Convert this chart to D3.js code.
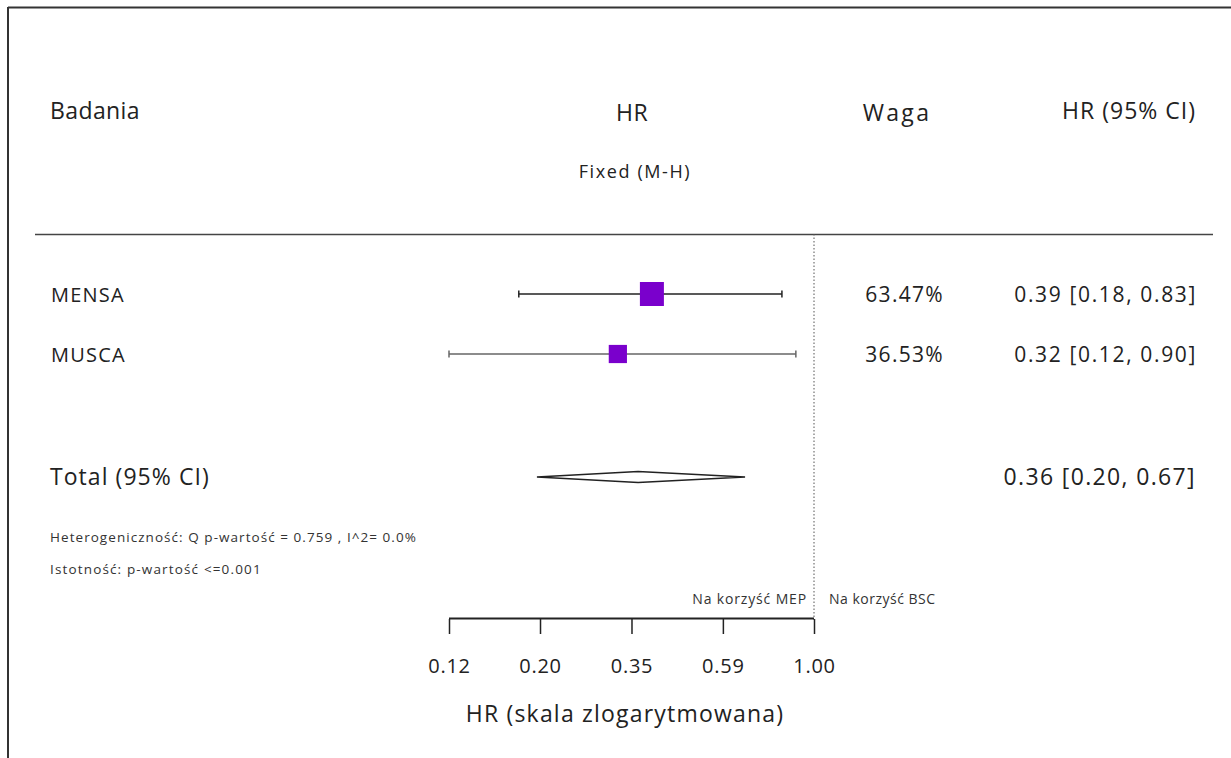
<!DOCTYPE html>
<html>
<head>
<meta charset="utf-8">
<script src="https://d3js.org/d3.v7.min.js"></script>
<style>
  body { margin: 0; background: #fff; }
  svg text { font-family: "Open Sans", Lato, sans-serif; fill: #222; }
</style>
</head>
<body>
<svg width=1231 height=758 id="chart"></svg>
<script>

// Study data
var studies = ['MENSA', 'MUSCA'];
var hr = [0.39, 0.32];
var lower = [0.18, 0.12];
var upper = [0.83, 0.90];
var weights = [63.47, 36.53];
var ciLabels = ['0.39 [0.18, 0.83]', '0.32 [0.12, 0.90]'];

// Pooled estimate
var total = {hr: 0.36, lo: 0.20, hi: 0.67, label: '0.36 [0.20, 0.67]'};

// Axis ticks (log scale)
var tickValues = [0.12, 0.2036, 0.3464, 0.5890, 1.0];
var tickLabels = ['0.12', '0.20', '0.35', '0.59', '1.00'];

var svg = d3.select('#chart');

var x = d3.scaleLog().domain([0.12, 1]).range([449, 814]);
var y = d3.scaleBand().domain(studies).range([264, 384]);
var box = d3.scaleSqrt().domain([0, 63.47]).range([0, 24]);

// small helper for text
function label(px, py, txt, size, anchor, ls) {
  return svg.append('text').attr('x', px).attr('y', py)
    .attr('text-anchor', anchor || 'start')
    .style('font-size', size + 'px')
    .style('letter-spacing', (ls || 0) + 'px')
    .text(txt);
}

// frame (top + left only)
svg.append('line').attr('x1', 8).attr('x2', 1231).attr('y1', 7.5).attr('y2', 7.5)
  .attr('stroke', '#333').attr('stroke-width', 2);
svg.append('line').attr('x1', 8).attr('x2', 8).attr('y1', 7).attr('y2', 758)
  .attr('stroke', '#333').attr('stroke-width', 2);

// header
label(50, 119, 'Badania', 23, 'start', 0.4);
label(632, 121, 'HR', 23, 'middle', 0.5);
label(897, 121, 'Waga', 23, 'middle', 2.3);
label(1196, 119, 'HR (95% CI)', 23, 'end', 1);
label(635, 178, 'Fixed (M-H)', 18, 'middle', 1.6);

svg.append('line').attr('x1', 35).attr('x2', 1213).attr('y1', 234.5).attr('y2', 234.5)
  .attr('stroke', '#444').attr('stroke-width', 1.5);

// null line
svg.append('line').attr('x1', x(1)).attr('x2', x(1)).attr('y1', 234).attr('y2', 620)
  .attr('stroke', '#555').attr('stroke-width', 1).attr('stroke-dasharray', '1.5,2');

// study rows
var rows = svg.selectAll('g.row').data(studies).enter().append('g').attr('class', 'row')
  .attr('transform', function(d) { return 'translate(0,' + (y(d) + y.bandwidth() / 2) + ')'; });

rows.append('line')
  .attr('x1', function(d, i) { return x(lower[i]); })
  .attr('x2', function(d, i) { return x(upper[i]); })
  .attr('stroke', function(d, i) { return i === 0 ? '#222' : '#666'; })
  .attr('stroke-width', 1.5);

rows.each(function(d, i) {
  var g = d3.select(this);
  [lower[i], upper[i]].forEach(function(v) {
    g.append('line').attr('x1', x(v)).attr('x2', x(v)).attr('y1', -3.5).attr('y2', 3.5)
      .attr('stroke', i === 0 ? '#222' : '#666').attr('stroke-width', 1.5);
  });
});

rows.append('rect')
  .attr('x', function(d, i) { return x(hr[i]) - box(weights[i]) / 2; })
  .attr('y', function(d, i) { return -box(weights[i]) / 2; })
  .attr('width', function(d, i) { return box(weights[i]); })
  .attr('height', function(d, i) { return box(weights[i]); })
  .attr('fill', '#7a00cc');

rows.append('text').attr('x', 51).attr('y', 8).style('font-size', '20px').style('letter-spacing', '1.2px')
  .text(function(d) { return d; });
rows.append('text').attr('x', 944).attr('y', 8).attr('text-anchor', 'end').style('font-size', '21px')
  .style('letter-spacing', '1.3px')
  .text(function(d, i) { return weights[i].toFixed(2) + '%'; });
rows.append('text').attr('x', 1197).attr('y', 8).attr('text-anchor', 'end').style('font-size', '21px')
  .style('letter-spacing', '1.65px')
  .text(function(d, i) { return ciLabels[i]; });

// total
var ty = 477;
label(50, ty + 8, 'Total (95% CI)', 23, 'start', 1.05);
label(1196, ty + 8, total.label, 23, 'end', 1.35);
svg.append('path')
  .attr('d', 'M' + x(total.lo) + ',' + ty + ' L' + x(total.hr) + ',' + (ty - 5.5) +
    ' L' + x(total.hi) + ',' + ty + ' L' + x(total.hr) + ',' + (ty + 5.5) + 'Z')
  .attr('fill', '#fff').attr('stroke', '#222').attr('stroke-width', 1.5);

// stats notes
label(50, 542, 'Heterogeniczność: Q p-wartość = 0.759 , I^2= 0.0%', 13.5, 'start', 1.05).style('fill', '#333');
label(50, 574, 'Istotność: p-wartość <=0.001', 13.5, 'start', 1.15).style('fill', '#333');

label(807, 604, 'Na korzyść MEP', 14, 'end', 0.85).style('fill', '#333');
label(829, 604, 'Na korzyść BSC', 14, 'start', 0.5).style('fill', '#333');

// axis
var axis = d3.axisBottom(x).tickValues(tickValues).tickSize(-15)
  .tickFormat(function(d, i) { return tickLabels[i]; });
var ax = svg.append('g').attr('transform', 'translate(0,634)').call(axis);
ax.select('.domain').remove();
ax.append('line').attr('x1', x(0.12)).attr('x2', x(1)).attr('y1', -15.5).attr('y2', -15.5)
  .attr('stroke', '#222').attr('stroke-width', 2);
ax.selectAll('.tick line').attr('stroke', '#222').attr('stroke-width', 1.5);
ax.selectAll('.tick text').attr('y', 0).attr('dy', 39).style('font-size', '20px')
  .style('letter-spacing', '0.75px')
  .style('font-family', '"Open Sans", Lato, sans-serif').style('fill', '#222');

label(625, 722, 'HR (skala zlogarytmowana)', 23, 'middle', 1.2);

</script>
</body>
</html>
